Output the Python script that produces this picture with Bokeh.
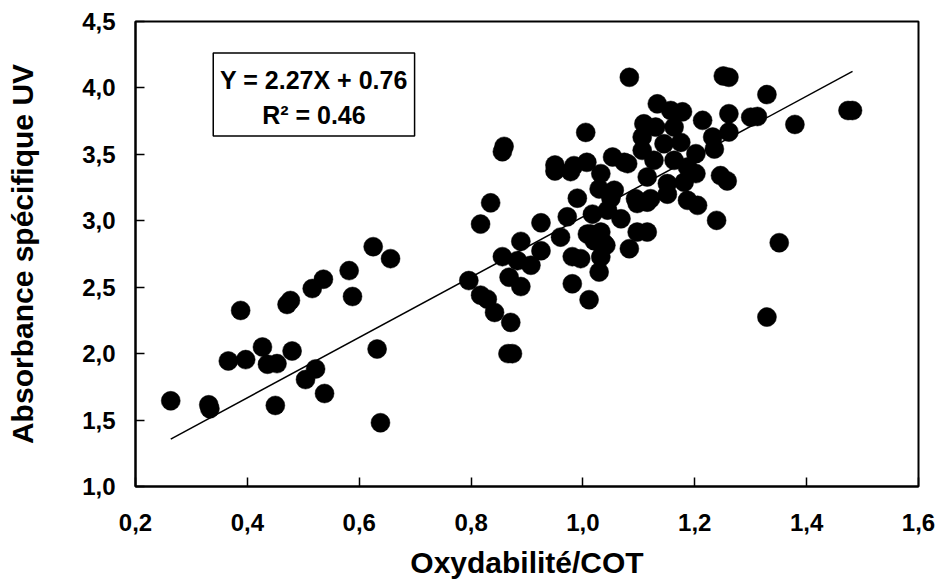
from bokeh.plotting import figure
from bokeh.models import Range1d, FixedTicker, BoxAnnotation, Label
from bokeh.embed import file_html
from bokeh.resources import INLINE

# ---- data ----
oxy = [0.263, 0.331, 0.333, 0.366, 0.397, 0.388, 0.427, 0.436, 0.453, 0.480,
       0.450, 0.471, 0.477, 0.516, 0.536, 0.582, 0.588, 0.625, 0.656, 0.632,
       0.638, 0.522, 0.504, 0.538,
       0.796, 0.817, 0.829, 0.842, 0.871, 0.866, 0.874, 0.817, 0.835, 0.859,
       0.856, 0.868, 0.889, 0.856, 0.883, 0.889, 0.907, 0.925, 0.925, 0.960,
       0.950, 0.950, 0.984, 0.978, 1.007, 1.005, 1.053, 1.074, 1.032, 1.029,
       0.990, 1.056, 1.050, 0.972, 1.017, 1.044, 1.068, 1.008, 1.032, 1.041,
       1.032, 0.981, 0.996, 1.083, 1.097, 1.115, 1.029, 0.981, 1.011, 1.083,
       1.251, 1.261, 1.133, 1.157, 1.178, 1.109, 1.130, 1.163, 1.214, 1.261,
       1.261, 1.232, 1.235, 1.106, 1.106, 1.145, 1.175, 1.202, 1.127, 1.163,
       1.187, 1.202, 1.115, 1.151, 1.181, 1.246, 1.258, 1.094, 1.121, 1.097,
       1.115, 1.151, 1.187, 1.205, 1.239, 1.329, 1.300, 1.312, 1.379, 1.474,
       1.482, 1.351, 1.329, 1.080, 1.014, 1.020, 1.038]
absuv = [1.645, 1.615, 1.585, 1.945, 1.955, 2.325, 2.050, 1.920, 1.925, 2.020,
         1.610, 2.370, 2.400, 2.490, 2.560, 2.625, 2.430, 2.805, 2.715, 2.035,
         1.480, 1.885, 1.805, 1.700,
         2.550, 2.440, 2.410, 2.310, 2.235, 2.000, 2.000, 2.975, 3.135, 3.560,
         3.520, 2.575, 2.505, 2.730, 2.700, 2.845, 2.665, 2.775, 2.985, 2.877,
         3.420, 3.375, 3.415, 3.370, 3.440, 3.665, 3.480, 3.440, 3.355, 3.240,
         3.170, 3.230, 3.170, 3.030, 3.050, 3.080, 3.015, 2.900, 2.915, 2.815,
         2.727, 2.730, 2.715, 2.790, 2.915, 2.915, 2.614, 2.526, 2.406, 4.080,
         4.090, 4.080, 3.880, 3.830, 3.820, 3.730, 3.705, 3.705, 3.756, 3.806,
         3.668, 3.630, 3.540, 3.630, 3.530, 3.580, 3.590, 3.505, 3.455, 3.455,
         3.405, 3.355, 3.330, 3.280, 3.290, 3.340, 3.300, 3.166, 3.166, 3.130,
         3.140, 3.200, 3.154, 3.116, 3.003, 3.950, 3.780, 3.785, 3.725, 3.830,
         3.830, 2.835, 2.275, 3.430, 2.900, 2.850, 2.830]

slope = 2.27
intercept = 0.76
r2 = 0.46

x_ticks = [0.2, 0.4, 0.6, 0.8, 1.0, 1.2, 1.4, 1.6]
x_tick_labels = ["0,2", "0,4", "0,6", "0,8", "1,0", "1,2", "1,4", "1,6"]
y_ticks = [1.0, 1.5, 2.0, 2.5, 3.0, 3.5, 4.0, 4.5]
y_tick_labels = ["1,0", "1,5", "2,0", "2,5", "3,0", "3,5", "4,0", "4,5"]

FONT = "Liberation Sans"

p = figure(width=936, height=583, output_backend="svg", toolbar_location=None,
           x_range=Range1d(0.2, 1.6), y_range=Range1d(1.0, 4.5),
           min_border_left=135, min_border_right=18, min_border_top=21,
           min_border_bottom=97)
p.background_fill_color = "white"
p.border_fill_color = "white"
p.outline_line_color = "black"
p.outline_line_width = 2
p.xgrid.visible = False
p.ygrid.visible = False

for ax, ticks, labels, standoff in ((p.xaxis[0], x_ticks, x_tick_labels, 27),
                                    (p.yaxis[0], y_ticks, y_tick_labels, 20)):
    ax.ticker = FixedTicker(ticks=ticks)
    ax.major_label_overrides = {t: l for t, l in zip(ticks, labels)}
    ax.major_tick_in = 9
    ax.major_tick_out = 0
    ax.minor_tick_in = 0
    ax.minor_tick_out = 0
    ax.major_tick_line_width = 1.5
    ax.axis_line_width = 2
    ax.axis_line_color = "black"
    ax.major_label_text_font = FONT
    ax.major_label_text_font_style = "bold"
    ax.major_label_text_font_size = "24px"
    ax.major_label_text_color = "black"
    ax.major_label_standoff = standoff
    ax.axis_label_text_font = FONT
    ax.axis_label_text_font_style = "bold"
    ax.axis_label_text_font_size = "30px"
    ax.axis_label_text_color = "black"

p.xaxis.axis_label = "Oxydabilité/COT"
p.yaxis.axis_label = "Absorbance spécifique UV"
p.xaxis.axis_label_standoff = 12
p.yaxis.axis_label_standoff = 40

p.scatter(oxy, absuv, marker="circle", size=19, fill_color="black",
          line_color="black", line_width=0.5)

# regression line over the data span
x0, x1 = min(oxy), max(oxy)
p.line([x0, x1], [slope * x0 + intercept, slope * x1 + intercept],
       line_color="black", line_width=1.5)

# equation box
box = BoxAnnotation(left=0.339, right=0.699, bottom=3.638, top=4.263,
                    fill_color="white", fill_alpha=1.0,
                    line_color="black", line_alpha=1.0, line_width=1.5)
p.add_layout(box)
cx = (0.339 + 0.699) / 2
p.add_layout(Label(x=cx, y=4.057, text=f"Y = {slope:.2f}X + {intercept:.2f}",
                   text_align="center", text_baseline="middle",
                   text_font=FONT, text_font_style="bold",
                   text_font_size="25px", text_color="black"))
p.add_layout(Label(x=cx, y=3.794, text=f"R² = {r2:.2f}",
                   text_align="center", text_baseline="middle",
                   text_font=FONT, text_font_style="bold",
                   text_font_size="25px", text_color="black"))

open("out.html", "w").write(file_html(p, INLINE))
